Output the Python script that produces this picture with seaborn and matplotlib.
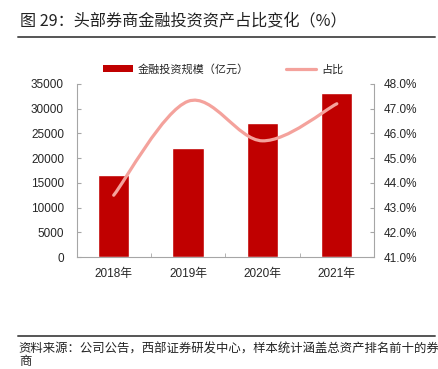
import numpy as np
import pandas as pd
import matplotlib
matplotlib.use('Agg')
import matplotlib.pyplot as plt
import seaborn as sns
from matplotlib.path import Path
from matplotlib.patches import PathPatch, Patch
from matplotlib.lines import Line2D
from matplotlib.ticker import FuncFormatter

years = ['2018年', '2019年', '2020年', '2021年']
scale = [16500, 22000, 27200, 33200]      # 金融投资规模（亿元）
share = [43.5, 47.3, 45.7, 47.2]          # 占比（%）

bar_label = '金融投资规模（亿元）'
line_label = '占比'
title = '图 29：头部券商金融投资资产占比变化（%）'
source = '资料来源：公司公告，西部证券研发中心，样本统计涵盖总资产排名前十的券'
source2 = '商'

bar_color = '#C00000'
line_color = '#F4A29C'
spine_color = '#A6A6A6'

sns.set_style('white')
plt.rcParams['font.family'] = ['Liberation Sans', 'Noto Sans CJK SC']
cjk = ['Noto Sans CJK SC', 'DejaVu Sans']

fig = plt.figure(figsize=(4.39, 3.69), dpi=100)
ax = fig.add_axes([0.1743, 0.3035, 0.6777, 0.4689])

df = pd.DataFrame({'year': years, 'scale': scale})
sns.barplot(data=df, x='year', y='scale', color=bar_color, width=0.42,
            saturation=1, ax=ax)
ax.set_ylim(0, 35000)
ax.set_yticks(np.arange(0, 35001, 5000))
ax.set_xlim(-0.5, 3.5)
ax.set_xlabel('')
ax.set_ylabel('')

ax2 = ax.twinx()
ax2.set_ylim(41, 48)
ax2.set_yticks(np.arange(41, 48.01, 1))
ax2.yaxis.set_major_formatter(FuncFormatter(lambda v, p: f'{v:.1f}%'))

# smoothed line (Catmull-Rom as Bezier) through the data points
xs = np.arange(len(share), dtype=float)
ys = np.array(share, dtype=float)
pts = np.column_stack([xs, ys])
verts = [pts[0]]
codes = [Path.MOVETO]
n = len(pts)
for i in range(n - 1):
    p0 = pts[max(i - 1, 0)]
    p1 = pts[i]
    p2 = pts[i + 1]
    p3 = pts[min(i + 2, n - 1)]
    c1 = p1 + (p2 - p0) / 6
    c2 = p2 - (p3 - p1) / 6
    verts += [c1, c2, p2]
    codes += [Path.CURVE4] * 3
ax2.add_patch(PathPatch(Path(verts, codes), fill=False, edgecolor=line_color,
                        lw=2.3, capstyle='round'))

for a in (ax, ax2):
    for s in a.spines.values():
        s.set_color(spine_color)
        s.set_linewidth(0.8)
    a.spines['top'].set_visible(False)
ax.spines['right'].set_visible(False)
ax2.spines['left'].set_visible(False)
ax2.spines['bottom'].set_visible(False)

ax.tick_params(axis='y', direction='in', length=3, color=spine_color,
               labelsize=8.5, pad=9, left=True)
ax.tick_params(axis='x', length=0, labelsize=8.5, pad=8)
ax.set_xticks([-0.5, 0.5, 1.5, 2.5, 3.5], minor=True)
ax.tick_params(axis='x', which='minor', direction='in', length=3,
               color=spine_color, bottom=True)
ax2.tick_params(axis='y', direction='in', length=3, color=spine_color,
                labelsize=8.5, pad=7, right=True)

handles = [Patch(facecolor=bar_color, edgecolor='none'),
           Line2D([0], [0], color=line_color, lw=2.3)]
fig.legend(handles, [bar_label, line_label], ncol=2, loc='center',
           bbox_to_anchor=(0.508, 0.813), frameon=False,
           prop={'family': cjk, 'size': 8}, handlelength=2.7,
           handleheight=0.6, handletextpad=0.4, columnspacing=3.4)

fig.text(0.046, 0.94, title, family=cjk, fontsize=11.6, va='center',
         ha='left', color='#222222')
fig.add_artist(Line2D([0.041, 0.991], [0.9, 0.9], color='#555555', lw=1.4,
                      transform=fig.transFigure))
fig.add_artist(Line2D([0.041, 0.991], [0.09, 0.09], color='#555555', lw=1.4,
                      transform=fig.transFigure))
fig.text(0.043, 0.054, source, family=cjk, fontsize=8.9, va='center',
         ha='left', color='#222222')
fig.text(0.043, 0.003, source2, family=cjk, fontsize=8.9, va='bottom',
         ha='left', color='#222222')

fig.savefig('out.png', dpi=100)
